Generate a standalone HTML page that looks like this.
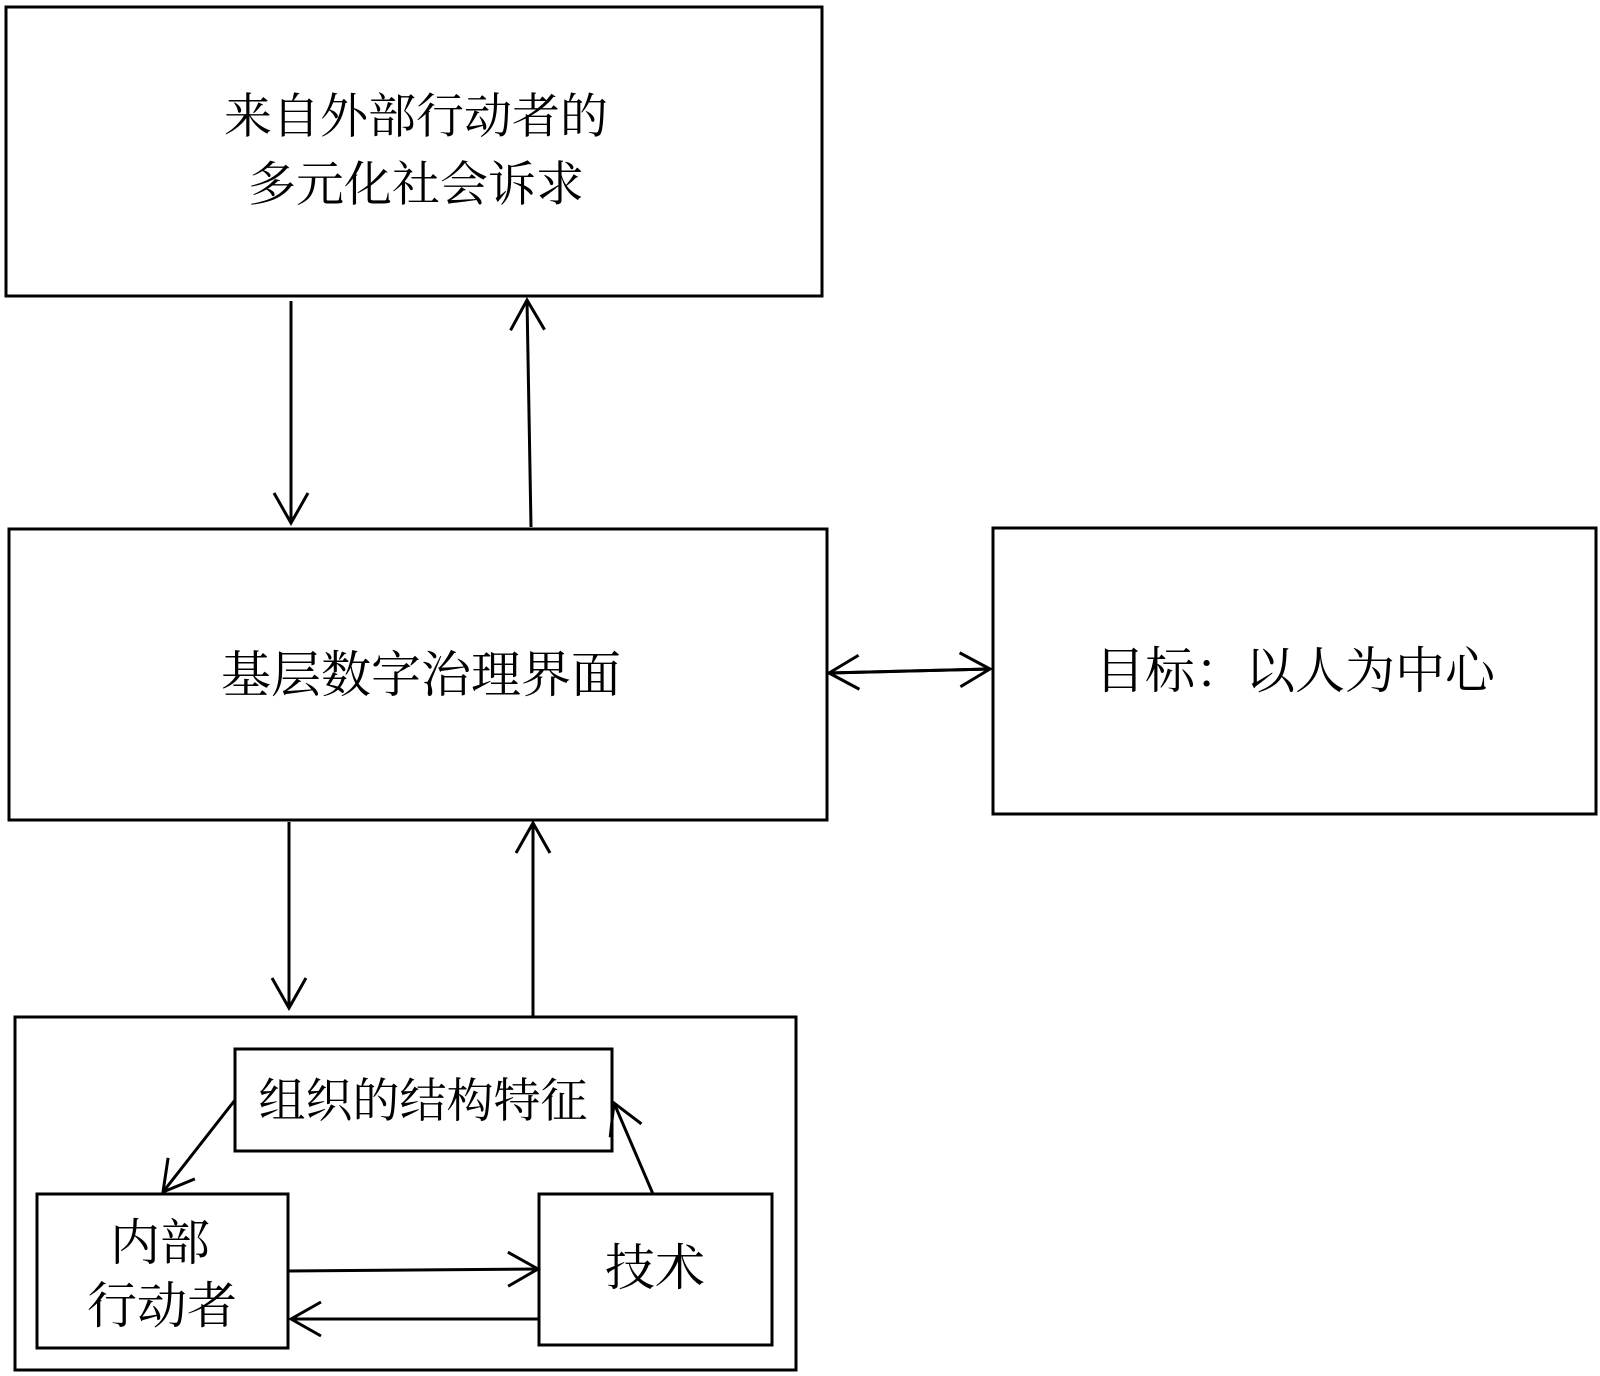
<!DOCTYPE html>
<html><head><meta charset="utf-8"><style>
body{margin:0;background:#fff;width:1600px;height:1376px;overflow:hidden}
svg{display:block}
text{font-family:"Liberation Serif","Noto Serif CJK SC",serif;fill:#000;text-anchor:middle;dominant-baseline:central}
</style></head><body>
<svg width="1600" height="1376" viewBox="0 0 1600 1376">
<defs><marker id="a" markerWidth="14" markerHeight="16" refX="13" refY="8" orient="auto" markerUnits="userSpaceOnUse"><path d="M1,1 L13,8 L1,15" fill="none" stroke="#000" stroke-width="3"/></marker>
<marker id="b" markerWidth="36" markerHeight="40" refX="33" refY="20" orient="auto" markerUnits="userSpaceOnUse"><path d="M3,3 L33,20 L3,37" fill="none" stroke="#000" stroke-width="3"/></marker></defs>
<g fill="none" stroke="#000" stroke-width="3">
<rect x="6" y="7" width="816" height="289"/>
<rect x="9" y="529" width="818" height="291"/>
<rect x="993" y="528" width="603" height="286"/>
<rect x="15" y="1017" width="781" height="353"/>
<rect x="235" y="1049" width="377" height="102"/>
<rect x="37" y="1194" width="251" height="154"/>
<rect x="539" y="1194" width="233" height="151"/>
<g marker-end="url(#b)">
<line x1="291" y1="301" x2="291" y2="523"/>
<line x1="531" y1="527" x2="527" y2="300"/>
<line x1="289" y1="822" x2="289" y2="1008"/>
<line x1="533" y1="1017" x2="533" y2="823"/>
<line x1="829" y1="673" x2="990" y2="669" marker-start="url(#b)" style="marker-start:none"/>
<line x1="990" y1="669" x2="829" y2="673"/>
<line x1="235" y1="1100" x2="163" y2="1192"/>
<line x1="653" y1="1194" x2="614" y2="1103"/>
<line x1="288" y1="1271" x2="538" y2="1269"/>
<line x1="538" y1="1319" x2="291" y2="1319"/>
</g>
</g>
<text x="416" y="117" font-size="48">来自外部行动者的</text>
<text x="416" y="185" font-size="48">多元化社会诉求</text>
<text x="421" y="675" font-size="50">基层数字治理界面</text>
<text x="1295" y="671" font-size="50">目标：以人为中心</text>
<text x="423" y="1102" font-size="47">组织的结构特征</text>
<text x="160" y="1243" font-size="50">内部</text>
<text x="162" y="1306" font-size="50">行动者</text>
<text x="655" y="1268" font-size="50">技术</text>
</svg>
</body></html>
